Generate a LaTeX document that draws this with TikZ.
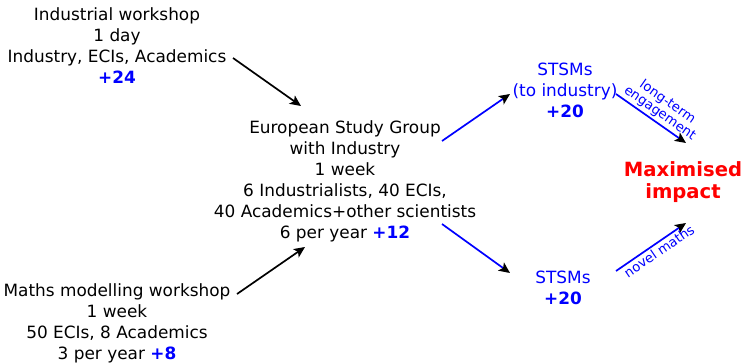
\documentclass[tikz,border=0pt]{standalone}
\usepackage{fontspec}
\setmainfont{DejaVu Sans}
\usetikzlibrary{arrows.meta}
\begin{document}
\begin{tikzpicture}[x=1pt,y=-1pt,
  txt/.style={align=center,font=\fontsize{16.9}{21}\selectfont,inner sep=0pt},
  bl/.style={txt,text=blue},
  arr/.style={line width=1.7pt,-{Stealth[length=11pt,width=10pt,inset=2.5pt,black]}},
  lab/.style={font=\fontsize{13.2}{13.5}\selectfont,text=blue,sloped,align=center,inner sep=1pt}]
\useasboundingbox (0,0) rectangle (742,362);
\node[txt,anchor=base] (iw) at (117,83) {Industrial workshop\\1 day\\Industry, ECIs, Academics\\\textcolor{blue}{\textbf{+24}}};
\node[txt,anchor=base] (esg) at (345,238) {European Study Group\\with Industry\\1 week\\6 Industrialists, 40 ECIs,\\40 Academics+other scientists\\6 per year \textcolor{blue}{\textbf{+12}}};
\node[txt,anchor=base] (mm) at (117,359) {Maths modelling workshop\\1 week\\50 ECIs, 8 Academics\\3 per year \textcolor{blue}{\textbf{+8}}};
\node[bl,anchor=base] (s1) at (565,117) {STSMs\\(to industry)\\\textbf{+20}};
\node[bl,anchor=base] (s2) at (563,304) {STSMs\\\textbf{+20}};
\node[txt,anchor=base,text=red,font=\fontsize{19.6}{22}\selectfont\bfseries] (mi) at (683,198) {Maximised\\impact};
\coordinate (a1s) at (233,58); \coordinate (a1e) at (301,106);
\coordinate (a2s) at (237,294); \coordinate (a2e) at (305,247);
\coordinate (a3s) at (442,141); \coordinate (a3e) at (510,94);
\coordinate (a4s) at (442,224); \coordinate (a4e) at (510,273);
\coordinate (a5s) at (616,94); \coordinate (a5e) at (686,143);
\coordinate (a6s) at (616,271); \coordinate (a6e) at (686,223);
\draw[arr] (a1s) -- (a1e);
\draw[arr] (a2s) -- (a2e);
\draw[arr,blue] (a3s) -- (a3e);
\draw[arr,blue] (a4s) -- (a4e);
\draw[arr,blue] (a5s) -- node[lab,above=1pt,pos=0.55] (l1) {long-term\\engagement} (a5e);
\draw[arr,blue] (a6s) -- node[lab,below=1pt,pos=0.55] (l2) {novel maths} (a6e);
\end{tikzpicture}
\end{document}
